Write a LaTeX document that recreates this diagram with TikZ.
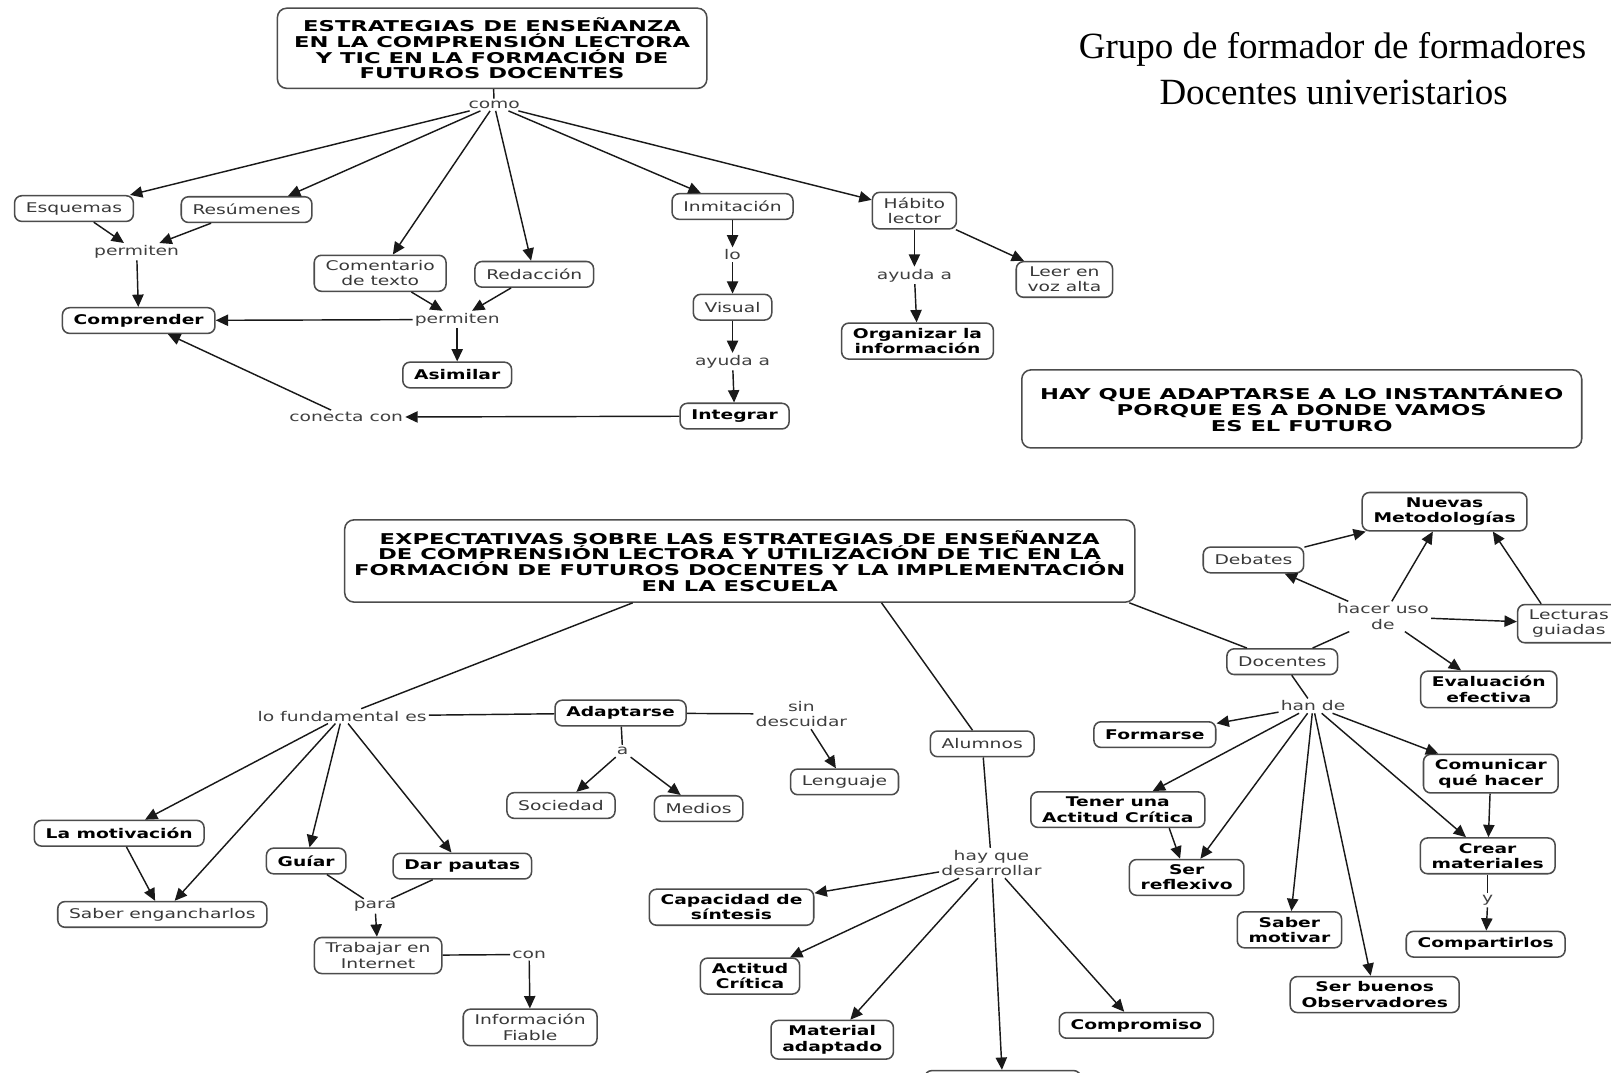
\documentclass[tikz,border=0pt]{standalone}
\usepackage{fontspec}
\usetikzlibrary{arrows.meta}
% wide sans faces used throughout the concept maps
\newfontfamily\mapfont[FakeStretch=1.4]{DejaVu Sans}
\newfontfamily\headfont[FakeStretch=1.52]{DejaVu Sans}
\newfontfamily\notefont{Liberation Serif}

\begin{document}
\begin{tikzpicture}[x=1pt,y=-1pt,
  cbox/.style={draw=black!70, line width=1.5pt, rounded corners=7pt, fill=white,
    inner xsep=11pt, inner ysep=5pt, minimum height=25pt, align=center,
    text=black!78, font=\mapfont\fontsize{13}{15}\selectfont},
  kbox/.style={cbox, text=black, font=\mapfont\bfseries\fontsize{13}{15}\selectfont},
  tbox/.style={draw=black!70, line width=1.5pt, rounded corners=9pt, fill=white,
    align=center, font=\headfont\bfseries\fontsize{14.5}{15.4}\selectfont},
  lnk/.style={inner sep=2pt, align=center, text=black!75,
    font=\mapfont\fontsize{13}{15}\selectfont},
  note/.style={anchor=base, font=\notefont\fontsize{36}{38}\selectfont},
  conn/.style={draw=black!90, line width=1.4pt},
  arr/.style={conn, -{Triangle[length=12pt,width=11pt]}},
]
\useasboundingbox (0,0) rectangle (1568,1044);
\fill[white] (0,0) rectangle (1568,1044);
\clip (0,0) rectangle (1568,1044);

% ---------- heading at the top right ----------
\node[note] (grupo) at (1297,57) {Grupo de formador de formadores};
\node[note] (docu) at (1298,102) {Docentes univeristarios};

% ---------- first map ----------
\node[tbox, minimum width=418pt, minimum height=78pt] (t1) at (479,47)
  {ESTRATEGIAS DE ENSEÑANZA\\EN LA COMPRENSIÓN LECTORA\\Y TIC EN LA FORMACIÓN DE\\FUTUROS DOCENTES};
\node[lnk] (como) at (481,102) {como};
\node[cbox] (esq) at (72,203) {Esquemas};
\node[cbox] (res) at (240,204) {Resúmenes};
\node[lnk] (perm1) at (133,245) {permiten};
\node[kbox] (compr) at (135,312) {Comprender};
\node[cbox] (coment) at (370,266) {Comentario\\de texto};
\node[cbox] (redac) at (520,267) {Redacción};
\node[lnk] (perm2) at (445,311) {permiten};
\node[kbox] (asim) at (445,365) {Asimilar};
\node[cbox] (inmit) at (713,201) {Inmitación};
\node[lnk] (lo) at (713,248) {lo};
\node[cbox] (visual) at (713,299) {Visual};
\node[lnk] (ayuda1) at (713,352) {ayuda a};
\node[kbox] (integ) at (715,405) {Integrar};
\node[lnk] (conecta) at (337,406) {conecta con};
\node[cbox] (habito) at (890,205) {Hábito\\lector};
\node[lnk] (ayuda2) at (890,268) {ayuda a};
\node[cbox] (leer) at (1036,272) {Leer en\\voz alta};
\node[kbox] (organ) at (893,332) {Organizar la\\información};
\node[tbox, minimum width=545pt, minimum height=76pt] (lema) at (1267,398)
  {HAY QUE ADAPTARSE A LO INSTANTÁNEO\\PORQUE ES A DONDE VAMOS\\ES EL FUTURO};

\draw[conn] (t1) -- (como);
\draw[arr] (como) -- ([xshift=-4pt]esq.north east);
\draw[arr] (como) -- ([xshift=-24pt]res.north east);
\foreach \n in {coment,redac,inmit,habito} \draw[arr] (como) -- (\n);
\draw[arr] (esq) -- (perm1);
\draw[arr] (res) -- (perm1);
\draw[arr] (perm1) -- (compr);
\draw[arr] (coment) -- (perm2);
\draw[arr] (redac) -- (perm2);
\draw[arr] (perm2) -- (compr);
\draw[arr] (perm2) -- (asim);
\draw[arr] (inmit) -- (lo);
\draw[arr] (lo) -- (visual);
\draw[arr] (visual) -- (ayuda1);
\draw[arr] (ayuda1) -- (integ);
\draw[arr] (integ) -- (conecta);
\draw[arr] (conecta) -- (compr);
\draw[arr] (habito) -- (ayuda2);
\draw[arr] (ayuda2) -- (organ);
\draw[arr] (habito) -- (leer);

% ---------- second map ----------
\node[tbox, minimum width=769pt, minimum height=80pt] (t2) at (720,546)
  {EXPECTATIVAS SOBRE LAS ESTRATEGIAS DE ENSEÑANZA\\DE COMPRENSIÓN LECTORA Y UTILIZACIÓN DE TIC EN LA\\FORMACIÓN DE FUTUROS DOCENTES Y LA IMPLEMENTACIÓN\\EN LA ESCUELA};

\node[lnk] (lofund) at (333,697) {lo fundamental es};
\node[kbox] (adapt) at (604,694) {Adaptarse};
\node[lnk] (sindesc) at (780,695) {sin\\descuidar};
\node[cbox] (leng) at (822,761) {Lenguaje};
\node[lnk] (lka) at (606,731) {a};
\node[cbox] (soc) at (546,784) {Sociedad};
\node[cbox] (medios) at (680,787) {Medios};
\node[kbox] (motiv) at (116,811) {La motivación};
\node[cbox] (saber) at (158,890) {Saber engancharlos};
\node[kbox] (guiar) at (298,838) {Guíar};
\node[kbox] (pautas) at (450,843) {Dar pautas};
\node[lnk] (para) at (365,882) {para};
\node[cbox] (trab) at (368,930) {Trabajar en\\Internet};
\node[lnk] (con) at (515,929) {con};
\node[cbox] (info) at (516,1000) {Información\\Fiable};

\node[cbox] (alum) at (956,724) {Alumnos};
\node[lnk] (hayque) at (965,840) {hay que\\desarrollar};
\node[kbox] (capac) at (712,883) {Capacidad de\\síntesis};
\node[kbox] (actit) at (730,950) {Actitud\\Crítica};
\node[kbox] (mater) at (810,1012) {Material\\adaptado};
\node[kbox] (compro) at (1106,998) {Compromiso};
\node[cbox, minimum width=152pt, minimum height=30pt] (lowbox) at (976,1057) {};

\node[cbox] (doc) at (1248,644) {Docentes};
\node[lnk] (hacer) at (1346,600) {hacer uso\\de};
\node[cbox] (debates) at (1220,545) {Debates};
\node[kbox] (nuevas) at (1406,498) {Nuevas\\Metodologías};
\node[cbox] (lect) at (1527,607) {Lecturas\\guiadas};
\node[kbox] (evalu) at (1449,671) {Evaluación\\efectiva};
\node[lnk] (hande) at (1278,687) {han de};
\node[kbox] (formarse) at (1124,715) {Formarse};
\node[kbox] (tener) at (1088,788) {Tener una\\Actitud Crítica};
\node[kbox] (serrefl) at (1155,854) {Ser\\reflexivo};
\node[kbox] (sabermot) at (1255,905) {Saber\\motivar};
\node[kbox] (serbuenos) at (1338,968) {Ser buenos\\Observadores};
\node[kbox] (comunicar) at (1451,753) {Comunicar\\qué hacer};
\node[kbox] (crear) at (1448,833) {Crear\\materiales};
\node[lnk] (y) at (1448,876) {y};
\node[kbox] (compart) at (1446,919) {Compartirlos};

\draw[conn] (t2) -- (lofund);
\draw[conn] ([xshift=138pt]t2.south) -- (alum);
\draw[conn] ([xshift=-6pt]t2.south east) -- (doc);

\draw[conn] (lofund) -- (adapt);
\draw[conn] (adapt) -- (sindesc);
\draw[arr] (sindesc) -- (leng);
\draw[conn] (adapt) -- (lka);
\draw[arr] (lka) -- (soc);
\draw[arr] (lka) -- (medios);
\foreach \n in {motiv,saber,guiar,pautas} \draw[arr] (lofund) -- (\n);
\draw[arr] (motiv) -- (saber);
\draw[conn] (guiar) -- (para);
\draw[conn] (pautas) -- (para);
\draw[arr] (para) -- (trab);
\draw[conn] (trab) -- (con);
\draw[arr] (con) -- (info);

\draw[conn] (alum) -- (hayque);
\foreach \n in {capac,actit,mater,compro,lowbox} \draw[arr] (hayque) -- (\n);

\draw[conn] (doc) -- (hacer);
\foreach \n in {debates,nuevas,lect,evalu} \draw[arr] (hacer) -- (\n);
\draw[arr] (debates) -- (nuevas);
\draw[arr] ([xshift=-27pt]lect.north) -- ([xshift=47pt]nuevas.south);

\draw[conn] (doc) -- (hande);
\foreach \n in {formarse,tener,serrefl,sabermot,serbuenos,comunicar,crear} \draw[arr] (hande) -- (\n);
\draw[arr] ([xshift=50pt]tener.south) -- (serrefl);
\draw[arr] (comunicar) -- (crear);
\draw[conn] (crear) -- (y);
\draw[arr] (y) -- (compart);
\end{tikzpicture}
\end{document}
